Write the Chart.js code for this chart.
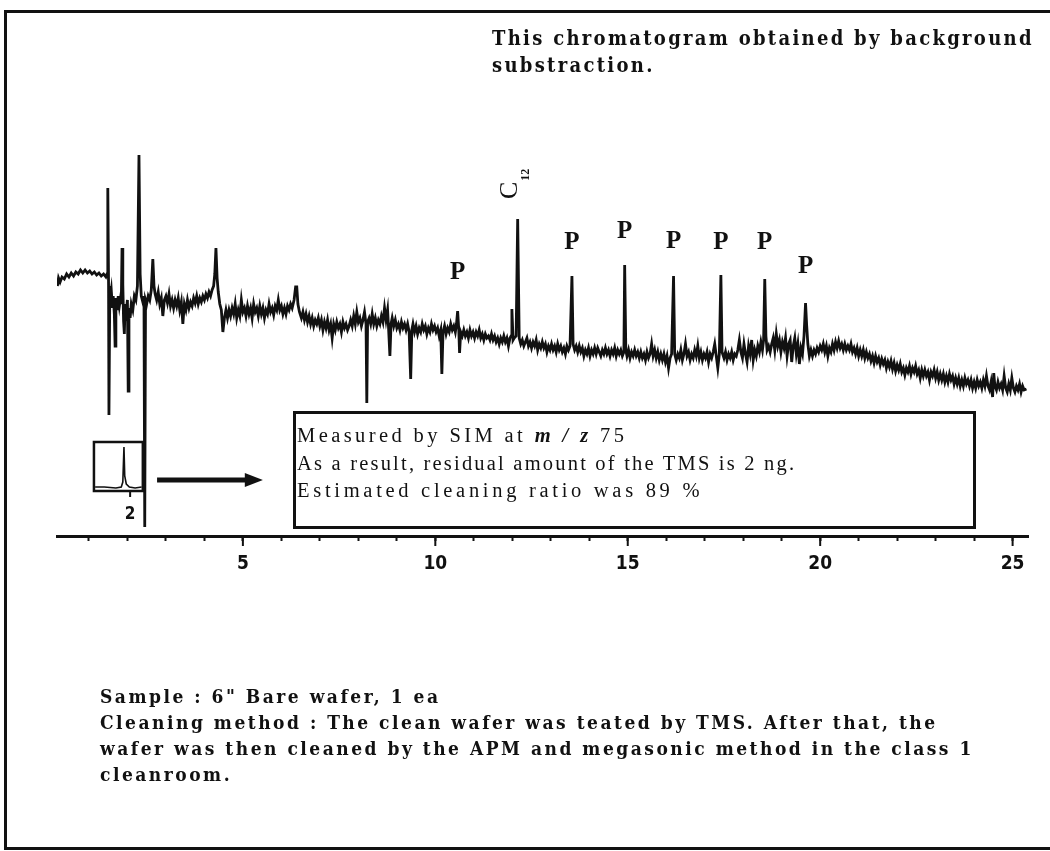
<!DOCTYPE html>
<html>
<head>
<meta charset="utf-8">
<title>TMS chromatogram</title>
<script src="https://cdn.jsdelivr.net/npm/chart.js@4.4.1/dist/chart.umd.min.js"></script>
<style>
  html, body { margin: 0; padding: 0; background: #fff; overflow: hidden; }
  #page { position: relative; width: 1050px; height: 851px; }
  #frame { position: absolute; left: 4px; top: 10px; width: 1070px; height: 834px; border: 3px solid #111; }
  #plot { position: absolute; left: 0; top: 0; }
  .note {
    position: absolute; color: #111; white-space: nowrap;
    font-family: "DejaVu Serif Condensed", "DejaVu Serif", serif; font-stretch: condensed; font-weight: bold;
  }
  #topNote { left: 492px; top: 25px; font-size: 20px; letter-spacing: 2.3px; line-height: 27px; }
  #bottomNote { left: 100px; top: 683px; font-size: 19px; letter-spacing: 2.5px; line-height: 26px; }
  #resultBox {
    position: absolute; left: 293px; top: 411px; width: 683px; height: 118px; box-sizing: border-box;
    border: 3px solid #111; padding: 8px 0 0 1px;
    font-family: "Liberation Serif", "Times New Roman", serif; font-size: 20.5px; letter-spacing: 2.2px; line-height: 27.5px; color: #111;
  }
  #resultBox i { font-weight: bold; }
  #resultBox .wide { letter-spacing: 3.4px; }
  #resultBox .wider { letter-spacing: 3.7px; }
</style>
</head>
<body>
<div id="page">
  <div id="frame"></div>
  <canvas id="plot" width="1050" height="851"></canvas>
  <div class="note" id="topNote">This chromatogram obtained by background<br>substraction.</div>
  <div id="resultBox"><span class="wide">Measured by SIM at <i>m / z</i> 75</span><br>As a result, residual amount of the TMS is 2 ng.<br><span class="wider">Estimated cleaning ratio was 89 %</span></div>
  <div class="note" id="bottomNote">Sample : 6" Bare wafer, 1 ea<br>Cleaning method : The clean wafer was teated by TMS. After that, the<br>wafer was then cleaned by the APM and megasonic method in the class 1<br>cleanroom.</div>
</div>
<script>
// retention time (min) vs. ion intensity (arbitrary units)
const traceHead = [
  [0.18,250],[0.21,258],[0.25,254],[0.3,259],[0.36,257],[0.42,262],[0.48,259],[0.54,263],[0.6,260],[0.66,264],
  [0.72,262],[0.78,266],[0.84,263],[0.9,266],[0.96,263],[1.02,265],[1.08,262],[1.14,264],[1.2,261],[1.26,263],
  [1.32,260],[1.38,262],[1.44,259],[1.47,262],[1.49,348],[1.51,250],[1.52,121],[1.54,235],[1.58,246],[1.61,228],
  [1.63,240],[1.66,222],[1.68,190],[1.7,238],[1.73,226],[1.76,240],[1.79,230],[1.82,238],[1.84,232],[1.86,288],
  [1.88,252],[1.9,215],[1.92,202],[1.94,232],[1.97,224],[2.0,236],[2.02,145],[2.04,228],[2.07,218],[2.1,232],
  [2.14,226],[2.18,240],[2.22,236],[2.26,250],[2.3,381],[2.33,262],[2.36,240],[2.4,234],[2.43,240],[2.45,9],
  [2.47,236],[2.5,232],[2.54,240],[2.58,236],[2.62,246],[2.66,277],[2.69,250],[2.72,242],[2.76,236],[2.8,244],
  [2.84,232],[2.88,238],[2.92,220],[2.96,236]
];
const traceMid = [
  [3.0,240],[3.04,233],[3.08,242],[3.12,230],[3.16,236],[3.2,228],[3.24,236],[3.28,230],[3.32,238],[3.36,226],
  [3.4,234],[3.44,212],[3.48,232],[3.52,226],[3.56,236],[3.6,228],[3.64,234],[3.68,230],[3.72,238],[3.76,233],
  [3.8,240],[3.84,232],[3.88,238],[3.92,234],[3.96,240],[4.0,236],[4.04,242],[4.08,238],[4.12,244],[4.16,240],
  [4.2,246],[4.24,250],[4.27,262],[4.3,288],[4.33,258],[4.36,244],[4.4,232],[4.44,226],[4.48,204],[4.52,218],
  [4.56,226],[4.6,218],[4.64,226],[4.68,220],[4.72,228],[4.76,222],[4.8,232],[4.84,218],[4.88,226],[4.92,220],
  [4.96,236],[5.0,224],[5.04,228],[5.08,220],[5.12,230],[5.16,222],[5.2,228],[5.24,218],[5.28,232],[5.32,224],
  [5.36,228],[5.4,220],[5.44,230],[5.48,222],[5.52,228],[5.56,218],[5.6,226],[5.64,222],[5.68,232],[5.72,224],
  [5.76,228],[5.8,221],[5.84,230],[5.88,226],[5.92,236],[5.96,226],[6.0,230],[6.04,222],[6.08,228],[6.12,222],
  [6.16,230],[6.2,226],[6.24,232],[6.28,228],[6.33,236],[6.37,249],[6.4,249],[6.43,232],[6.47,224],[6.52,218],
  [6.56,224],[6.6,216],[6.64,222],[6.68,214],[6.72,220],[6.76,212],[6.8,218],[6.84,210],[6.88,216],[6.92,212],
  [6.96,218],[7.0,210],[7.04,216],[7.08,206],[7.12,214],[7.16,208],[7.2,216],[7.24,206],[7.28,212],[7.32,198],
  [7.36,212],[7.4,206],[7.44,214],[7.48,208],[7.52,212],[7.56,204],[7.6,214],[7.64,208],[7.68,212],[7.72,206],
  [7.76,210],[7.8,216],[7.84,210],[7.88,220],[7.92,212],[7.96,224],[8.0,214],[8.04,218],[8.08,210],[8.12,216],
  [8.16,224],[8.2,212],[8.22,133],[8.24,214],[8.28,218],[8.32,212],[8.36,222],[8.4,212],[8.44,218],[8.48,210],
  [8.52,216],[8.56,212],[8.6,220],[8.64,214],[8.68,228],[8.72,216],[8.76,226],[8.78,212],[8.82,180],[8.85,212],
  [8.88,218],[8.92,210],[8.96,216],[9.0,208],[9.04,212],[9.08,206],[9.12,214],[9.16,208],[9.2,212],[9.24,206],
  [9.28,212],[9.32,204],[9.36,157],[9.39,206],[9.42,212],[9.46,204],[9.5,210],[9.54,202],[9.58,208],[9.62,204],
  [9.66,212],[9.7,206],[9.74,210],[9.78,202],[9.82,208],[9.86,204],[9.9,212],[9.94,206],[9.98,210],[10.02,204],
  [10.06,208],[10.1,200],[10.14,206],[10.17,162],[10.2,204],[10.24,210],[10.28,202],[10.32,208],[10.36,204],[10.4,212],
  [10.44,206],[10.48,210],[10.52,204],[10.55,212],[10.58,225],[10.61,206],[10.63,183],[10.66,204],[10.7,200],[10.74,206],
  [10.78,200],[10.82,204],[10.86,198],[10.9,206],[10.94,200],[10.98,204],[11.02,198],[11.06,204],[11.1,200],[11.14,206],
  [11.18,198],[11.22,202],[11.26,196],[11.3,202],[11.34,198],[11.38,200],[11.42,196],[11.46,202],[11.5,196],[11.54,200],
  [11.58,194],[11.62,198],[11.66,192],[11.7,198],[11.74,194],[11.78,200],[11.82,194],[11.86,198],[11.9,190],[11.94,198]
];
const traceTail = [
  [11.97,200],[11.99,227],[12.02,196],[12.05,198],[12.1,200],[12.14,317],[12.18,198],[12.22,192],[12.26,196],[12.3,190],
  [12.34,194],[12.38,198],[12.42,190],[12.46,194],[12.5,188],[12.54,194],[12.58,190],[12.62,196],[12.66,186],[12.7,192],
  [12.74,188],[12.78,194],[12.82,188],[12.86,192],[12.9,184],[12.94,190],[12.98,186],[13.02,192],[13.06,186],[13.1,190],
  [13.14,184],[13.18,192],[13.22,186],[13.26,190],[13.3,184],[13.34,188],[13.38,182],[13.42,190],[13.46,186],[13.5,190],
  [13.55,260],[13.58,192],[13.62,186],[13.66,190],[13.7,184],[13.74,190],[13.78,184],[13.82,188],[13.86,180],[13.9,186],
  [13.94,182],[13.98,188],[14.02,180],[14.06,186],[14.1,182],[14.14,188],[14.18,182],[14.22,188],[14.26,184],[14.3,180],
  [14.34,186],[14.38,182],[14.42,188],[14.46,182],[14.5,186],[14.54,180],[14.58,186],[14.62,182],[14.66,188],[14.7,180],
  [14.74,186],[14.78,182],[14.82,186],[14.86,180],[14.9,184],[14.92,271],[14.95,186],[14.98,180],[15.02,186],[15.06,178],
  [15.1,184],[15.14,180],[15.18,186],[15.22,180],[15.26,184],[15.3,178],[15.34,184],[15.38,178],[15.42,182],[15.46,176],
  [15.5,184],[15.54,178],[15.58,182],[15.62,192],[15.66,180],[15.7,186],[15.74,178],[15.78,184],[15.82,176],[15.86,182],
  [15.9,176],[15.94,182],[15.98,174],[16.02,180],[16.06,168],[16.1,178],[16.14,182],[16.19,260],[16.22,182],[16.26,176],
  [16.3,182],[16.34,178],[16.38,186],[16.42,176],[16.46,182],[16.5,192],[16.54,180],[16.58,184],[16.62,176],[16.66,182],
  [16.7,178],[16.74,186],[16.78,180],[16.82,190],[16.86,178],[16.9,184],[16.94,176],[16.98,182],[17.02,178],[17.06,184],
  [17.1,174],[17.14,182],[17.18,178],[17.22,184],[17.26,192],[17.3,180],[17.34,168],[17.38,182],[17.42,261],[17.45,184],
  [17.5,178],[17.54,184],[17.58,176],[17.62,182],[17.66,178],[17.7,184],[17.74,176],[17.78,182],[17.82,180],[17.86,186],
  [17.9,196],[17.94,184],[17.98,178],[18.02,192],[18.06,182],[18.1,174],[18.14,190],[18.18,182],[18.22,196],[18.26,176],
  [18.3,186],[18.34,180],[18.38,190],[18.42,184],[18.46,194],[18.5,186],[18.53,196],[18.56,257],[18.59,200],[18.62,186],
  [18.66,190],[18.7,184],[18.74,192],[18.78,198],[18.82,186],[18.86,202],[18.9,190],[18.94,196],[18.98,184],[19.02,194],
  [19.06,188],[19.1,198],[19.14,180],[19.18,192],[19.22,196],[19.26,174],[19.3,190],[19.34,198],[19.38,182],[19.42,192],
  [19.46,172],[19.5,188],[19.54,182],[19.58,200],[19.62,233],[19.65,210],[19.68,192],[19.72,180],[19.76,186],[19.8,180],
  [19.84,186],[19.88,182],[19.92,188],[19.96,184],[20.0,190],[20.04,186],[20.08,192],[20.12,184],[20.16,190],[20.2,180],
  [20.24,188],[20.28,184],[20.32,192],[20.36,186],[20.4,194],[20.44,188],[20.48,195],[20.52,188],[20.56,192],[20.6,186],
  [20.64,192],[20.68,186],[20.72,190],[20.76,186],[20.8,192],[20.84,184],[20.88,188],[20.92,182],[20.96,188],[21.0,180],
  [21.04,186],[21.08,180],[21.12,186],[21.16,178],[21.2,184],[21.24,178],[21.28,182],[21.32,175],[21.36,180],[21.4,173],
  [21.44,180],[21.48,174],[21.52,178],[21.56,171],[21.6,177],[21.64,172],[21.68,176],[21.72,168],[21.76,174],[21.8,169],
  [21.84,175],[21.88,167],[21.92,173],[21.96,165],[22.0,171],[22.04,166],[22.08,172],[22.12,164],[22.16,168],[22.2,161],
  [22.24,168],[22.28,164],[22.32,170],[22.36,162],[22.4,168],[22.44,164],[22.48,170],[22.52,162],[22.56,166],[22.6,158],
  [22.64,166],[22.68,160],[22.72,166],[22.76,160],[22.8,164],[22.84,156],[22.88,164],[22.92,160],[22.96,166],[23.0,158],
  [23.04,164],[23.08,156],[23.12,162],[23.16,156],[23.2,162],[23.24,154],[23.28,160],[23.32,154],[23.36,162],[23.4,156],
  [23.44,160],[23.48,152],[23.52,158],[23.56,152],[23.6,158],[23.64,150],[23.68,156],[23.72,150],[23.76,158],[23.8,152],
  [23.84,156],[23.88,150],[23.92,156],[23.96,148],[24.0,154],[24.04,148],[24.08,156],[24.12,150],[24.16,154],[24.2,148],
  [24.24,156],[24.28,150],[24.32,160],[24.36,150],[24.4,146],[24.44,154],[24.48,139],[24.51,163],[24.54,150],[24.58,146],
  [24.62,154],[24.66,148],[24.7,152],[24.74,146],[24.78,160],[24.82,148],[24.86,144],[24.9,152],[24.94,146],[24.98,158],
  [25.02,148],[25.06,144],[25.1,150],[25.14,146],[25.18,152],[25.22,144],[25.26,150],[25.3,146],[25.36,147]
];
// TMS standard peak shown in the small inset
const insetTrace = [
  [1.16,49],[1.4,49],[1.7,48],[1.84,49],[1.88,54],[1.91,89],[1.93,60],[1.97,52],[2.05,49],[2.2,48],[2.37,49]
];
const peakLabels = [
  [10.58,263,'P'],[13.55,293,'P'],[14.92,304,'P'],[16.19,294,'P'],[17.42,293,'P'],[18.56,293,'P'],[19.62,269,'P']
];
const c12Label = [12.14, 339];
const tickValues = [5, 10, 15, 20, 25];

const INK = '#111';
const trace = [...traceHead, ...traceMid, ...traceTail];

const annotate = {
  id: 'annotate',
  afterDraw(chart) {
    const { ctx, scales: { x, y } } = chart;
    const X = v => x.getPixelForValue(v);
    const Y = v => y.getPixelForValue(v);
    ctx.save();
    ctx.strokeStyle = INK;
    ctx.fillStyle = INK;

    // longer ticks every 5 min
    ctx.lineWidth = 2;
    tickValues.forEach(v => {
      ctx.beginPath();
      ctx.moveTo(X(v), y.bottom);
      ctx.lineTo(X(v), y.bottom + 10);
      ctx.stroke();
    });

    // peak labels
    ctx.font = 'bold 25px "Liberation Serif"';
    ctx.textAlign = 'center';
    ctx.textBaseline = 'middle';
    peakLabels.forEach(([t, v, s]) => ctx.fillText(s, X(t), Y(v)));

    // C12, rotated
    ctx.save();
    ctx.translate(X(c12Label[0]), Y(c12Label[1]));
    ctx.rotate(-Math.PI / 2);
    ctx.textAlign = 'left';
    ctx.textBaseline = 'alphabetic';
    ctx.font = '26px "Liberation Serif"';
    ctx.fillText('C', -2, -1);
    const cw = ctx.measureText('C').width;
    ctx.font = 'bold 12px "Liberation Serif"';
    ctx.fillText('12', cw - 1, 11);
    ctx.restore();

    // inset box around TMS standard
    ctx.lineWidth = 2.5;
    ctx.strokeRect(X(1.13), Y(94), X(2.40) - X(1.13), Y(45) - Y(94));
    ctx.lineWidth = 2;
    ctx.beginPath();
    ctx.moveTo(X(2.07), Y(45));
    ctx.lineTo(X(2.07), Y(39));
    ctx.stroke();
    ctx.font = 'bold 17px "DejaVu Sans Condensed", "DejaVu Sans"';
    ctx.fillText('2', X(2.07), Y(21));

    // arrow
    ctx.lineWidth = 5;
    ctx.beginPath();
    ctx.moveTo(X(2.77), Y(56));
    ctx.lineTo(X(5.1), Y(56));
    ctx.stroke();
    ctx.beginPath();
    ctx.moveTo(X(5.05), Y(63));
    ctx.lineTo(X(5.52), Y(56));
    ctx.lineTo(X(5.05), Y(49));
    ctx.closePath();
    ctx.fill();
    ctx.restore();
  }
};

new Chart(document.getElementById('plot'), {
  type: 'line',
  data: {
    datasets: [
      {
        data: trace.map(([t, v]) => ({ x: t, y: v })),
        borderColor: INK,
        borderWidth: 2.8,
        pointRadius: 0,
        tension: 0,
        fill: false,
      },
      {
        data: insetTrace.map(([t, v]) => ({ x: t, y: v })),
        borderColor: INK,
        borderWidth: 1.6,
        pointRadius: 0,
        tension: 0,
        fill: false,
      },
    ],
  },
  options: {
    responsive: false,
    animation: false,
    layout: { padding: { left: 57, right: 22, top: 136, bottom: 255 } },
    plugins: { legend: { display: false }, tooltip: { enabled: false } },
    scales: {
      x: {
        type: 'linear',
        min: 0.17,
        max: 25.4,
        afterFit: s => { s.height = 60; },
        border: { display: true, color: INK, width: 3 },
        grid: { drawOnChartArea: false, drawTicks: true, tickLength: 5, tickWidth: 2, tickColor: INK },
        ticks: {
          stepSize: 1,
          includeBounds: false,
          autoSkip: false,
          maxRotation: 0,
          padding: 12,
          color: INK,
          font: { family: '"DejaVu Sans Condensed", "DejaVu Sans"', weight: 'bold', size: 19 },
          callback: v => (tickValues.includes(v) ? String(v) : ''),
        },
      },
      y: { display: false, min: 0, max: 400 },
    },
  },
  plugins: [annotate],
});
</script>
</body>
</html>
